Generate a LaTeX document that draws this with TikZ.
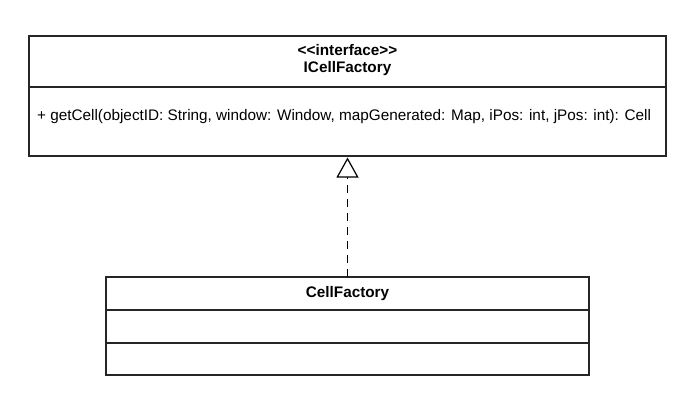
\documentclass[tikz,border=0pt]{standalone}
\usepackage{fontspec}
\setmainfont{Liberation Sans}[Ligatures=NoCommon]
\usetikzlibrary{arrows.meta}
\begin{document}
\begin{tikzpicture}[x=1pt,y=-1pt,
  box/.style={draw=black!85,line width=1.3pt},
  sepline/.style={draw=black!85,line width=1.1pt},
  txt/.style={inner sep=0pt,font=\fontsize{15.3}{17}\selectfont},
  btxt/.style={inner sep=0pt,font=\fontsize{15.3}{17}\selectfont\bfseries},
  realize/.style={draw=black,line width=1.6pt,dash pattern=on 8pt off 6pt,
    -{Triangle[open,length=20pt,width=22pt,fill=white,line width=1.2pt]}}]
\useasboundingbox (0,0) rectangle (700,416);
\fill[white] (0,0) rectangle (700,416);
% interface box
\draw[box] (29,36) rectangle (666,156);
\draw[sepline] (29,87) -- (666,87);
\node[btxt] (stereo) at (347.5,50) {{<}{<}interface{>}{>}};
\node[btxt] (iname) at (347.5,69) {ICellFactory};
\node[txt,anchor=west] (op) at (37,117) {+ getCell(objectID: String, window: Window, mapGenerated: Map, iPos: int, jPos: int): Cell};
% class box
\draw[box] (106,277) rectangle (589,375);
\coordinate (cftop) at (347.5,277);
\coordinate (ifacebot) at (347.5,157.5);
\draw[sepline] (106,310) -- (589,310);
\draw[sepline] (106,343) -- (589,343);
\node[btxt] (cname) at (347.5,294) {CellFactory};
% realization
\draw[realize] (cftop) -- (ifacebot);
\end{tikzpicture}
\end{document}
